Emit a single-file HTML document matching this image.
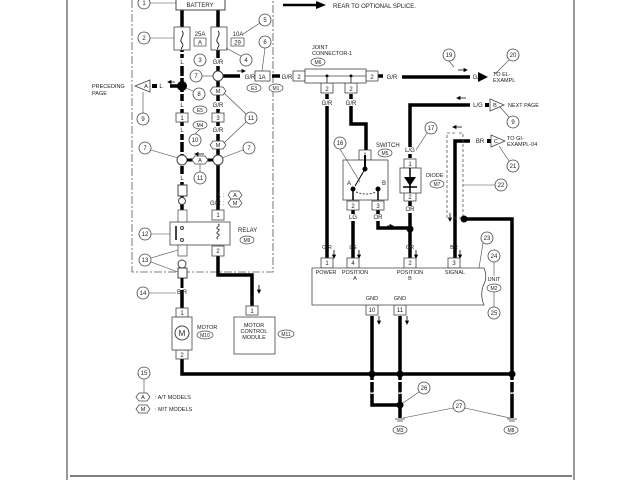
<!DOCTYPE html>
<html><head><meta charset="utf-8"><style>
html,body{margin:0;padding:0;background:#fff}
svg{display:block}
text{font-family:"Liberation Sans",sans-serif;fill:#222}
.c text{font-size:6px}
</style></head><body>
<svg width="640" height="480" viewBox="0 0 640 480" xmlns="http://www.w3.org/2000/svg">
<defs>
<g id="circ"><circle r="6" fill="#fff" stroke="#444" stroke-width="0.8"/></g>
</defs>
<g stroke="#555" stroke-width="1.2" fill="none">
<line x1="67" y1="0" x2="67" y2="480"/><line x1="574" y1="0" x2="574" y2="480"/>
<line x1="70" y1="476" x2="572" y2="476" stroke-width="1.5"/>
</g>
<path d="M132 0 V272 H273 V0" fill="none" stroke="#555" stroke-width="0.8" stroke-dasharray="8,2,2,2"/>
<line x1="283" y1="5" x2="318" y2="5" stroke="#000" stroke-width="2.5"/>
<polygon points="316,1 326,5 316,9" fill="#000"/>
<text x="333" y="8" font-size="6">REAR TO OPTIONAL SPLICE.</text>

<g stroke="#000" stroke-width="3.5" fill="none">
<path d="M182 10 V28 M182 50 V214 M182 226 V232"/>
<path d="M218 10 V28 M218 50 V215"/>
<path d="M218 76 H240"/>
<path d="M182 86 H170"/>
<path d="M272 76 H280"/>
<path d="M182 290 V310"/>
<path d="M218 255 V275 H252 V307"/>
<path d="M182 357 V374 H511"/>
<path d="M378 76 H383 M402 77 H470"/>
<path d="M327 94 V262 M351 94 V124 H366 V152"/>
<path d="M353 210 V262 M378 210 V228 H410"/>
<path d="M410 158 V105 H470"/>
<path d="M410 200 V262"/>
<path d="M470 141 H455 V262"/>
<path d="M464 219 H512 V418"/>
<path d="M372 316 V405 H400 M400 316 V418"/>
</g>
<g stroke="#fff" stroke-width="4" stroke-dasharray="2,10" fill="none">
<path d="M182 52 V80 M182 92 V180"/>
<path d="M372 380 V400 M400 380 V400 M512 380 V400"/>
</g>
<rect x="176" y="-2" width="49" height="12" fill="#fff" stroke="#444"/>
<text x="200" y="7" font-size="6" text-anchor="middle">BATTERY</text>
<g fill="#fff" stroke="#444" stroke-width="0.8">
<rect x="174" y="27" width="16" height="23"/><rect x="211" y="27" width="16" height="23"/>
</g>
<path d="M182 31 c4 4 -4 8 0 12 c3 3 -2 5 0 6 M218 31 c4 4 -4 8 0 12 c3 3 -2 5 0 6" stroke="#000" fill="none" stroke-width="0.8"/>
<text x="200" y="36" font-size="6" text-anchor="middle">25A</text>
<rect x="194" y="38" width="12" height="8" fill="#fff" stroke="#444" stroke-width="0.7"/><text x="200" y="44.5" font-size="6" text-anchor="middle">A</text>
<text x="238" y="36" font-size="6" text-anchor="middle">10A</text>
<rect x="231" y="38" width="13" height="8" fill="#fff" stroke="#444" stroke-width="0.7"/><text x="237.5" y="44.5" font-size="6" text-anchor="middle">29</text>
<g font-size="6" text-anchor="middle">
<text x="161" y="88">L</text>
<text x="250" y="79">G/R</text><text x="287" y="79">G/R</text>
<text x="392" y="79">G/R</text><text x="478" y="79">G/R</text>
<text x="478" y="107">L/G</text><text x="480" y="143">BR</text>
</g>
<g fill="#fff"><rect x="178" y="58" width="8" height="8"/><rect x="212" y="58" width="13" height="8"/><rect x="178" y="101" width="8" height="8"/><rect x="212" y="101" width="13" height="8"/><rect x="178" y="126" width="8" height="8"/><rect x="212" y="126" width="13" height="8"/><rect x="178" y="174" width="8" height="8"/></g>
<g font-size="6" text-anchor="middle">
<text x="182" y="64">L</text><text x="218" y="64">G/R</text><text x="182" y="107">L</text><text x="218" y="107">G/R</text><text x="182" y="132">L</text><text x="218" y="132">G/R</text><text x="182" y="180">L</text>
</g>
<circle cx="218" cy="76" r="5" fill="#fff" stroke="#444"/>
<circle cx="182" cy="86" r="5" fill="#000"/>
<circle cx="182" cy="160" r="5" fill="#fff" stroke="#444"/>
<circle cx="218" cy="160" r="5" fill="#fff" stroke="#444"/>
<line x1="187" y1="160" x2="213" y2="160" stroke="#000" stroke-width="3"/>
<g fill="#fff" stroke="#444" stroke-width="0.7">
<polygon points="210,91 213,87 223,87 226,91 223,95 213,95"/>
<polygon points="210,145 213,141 223,141 226,145 223,149 213,149"/>
<polygon points="192,160 195,156 205,156 208,160 205,164 195,164"/>
<polygon points="228,195 231,191 239,191 242,195 239,199 231,199"/>
<polygon points="228,203 231,199 239,199 242,203 239,207 231,207"/>
<polygon points="136,397 139,393 147,393 150,397 147,401 139,401"/>
<polygon points="136,409 139,405 147,405 150,409 147,413 139,413"/>
</g>
<g font-size="5.5" text-anchor="middle">
<text x="218" y="93">M</text><text x="218" y="147">M</text><text x="200" y="162">A</text>
<text x="235" y="197">A</text><text x="235" y="205">M</text>
<text x="143" y="399">A</text><text x="143" y="411">M</text>
</g>
<text x="224" y="197" font-size="6" text-anchor="end">L :</text>
<text x="224" y="205" font-size="6" text-anchor="end">G/R :</text>
<text x="155" y="399" font-size="5.5">: A/T MODELS</text>
<text x="155" y="411" font-size="5.5">: M/T MODELS</text>
<g fill="#000" stroke="#000" stroke-width="0.8">
<path d="M168 82 H175 M168 82 l3 -1.5 v3z"/>
<path d="M237 71 H245 M245 71 l-3 -1.5 v3z"/>
<path d="M195 154 H204 M195 154 l3 -1.5 v3z"/>
<path d="M259 285 V293 M259 293 l-1.5 -3 h3z"/>
<path d="M334 250 V258 M334 258 l-1.5 -3 h3z"/>
<path d="M359 250 V258 M359 258 l-1.5 -3 h3z"/>
<path d="M416 250 V258 M416 258 l-1.5 -3 h3z"/>
<path d="M460 250 V258 M460 258 l-1.5 -3 h3z"/>
<path d="M379 316 V324 M379 324 l-1.5 -3 h3z"/>
<path d="M407 316 V324 M407 324 l-1.5 -3 h3z"/>
<path d="M450 213 V221 M450 221 l-1.5 -3 h3z"/>
<path d="M453 127 H462 M453 127 l3 -1.5 v3z"/>
<path d="M457 98 H466 M457 98 l3 -1.5 v3z"/>
<path d="M458 70 H467 M467 70 l-3 -1.5 v3z"/>
<path d="M387 226 H393 M393 226 l-3 -1.5 v3z"/>
</g>
<polygon points="135,86 150,80 150,92" fill="#fff" stroke="#444" stroke-width="0.8"/>
<text x="146" y="88" font-size="5.5" text-anchor="middle">A</text>
<rect x="152" y="84" width="5" height="4" fill="#000"/>
<text x="92" y="88" font-size="5.5">PRECEDING</text><text x="92" y="95" font-size="5.5">PAGE</text>
<g fill="#fff" stroke="#444" stroke-width="0.8">
<rect x="176" y="113" width="12" height="9"/><rect x="212" y="113" width="12" height="9"/>
<rect x="255" y="71" width="15" height="10"/>
<rect x="293" y="71" width="12" height="10"/><rect x="366" y="71" width="12" height="10"/>
<rect x="321" y="83" width="12" height="10"/><rect x="345" y="83" width="12" height="10"/>
<rect x="212" y="210" width="12" height="10"/><rect x="212" y="246" width="12" height="10"/>
<rect x="176" y="308" width="12" height="9"/><rect x="176" y="350" width="12" height="9"/>
<rect x="246" y="306" width="12" height="9"/>
<rect x="359" y="150" width="12" height="10"/><rect x="347" y="201" width="12" height="9"/><rect x="372" y="201" width="12" height="9"/>
<rect x="404" y="159" width="12" height="9"/><rect x="404" y="192" width="12" height="9"/>
<rect x="321" y="258" width="12" height="10"/><rect x="347" y="258" width="12" height="10"/><rect x="404" y="258" width="12" height="10"/><rect x="448" y="258" width="12" height="10"/>
<rect x="366" y="305" width="12" height="10"/><rect x="394" y="305" width="12" height="10"/>
</g>
<g font-size="6" text-anchor="middle">
<text x="182" y="120">1</text><text x="218" y="120">3</text><text x="262" y="79">1A</text>
<text x="299" y="79">2</text><text x="372" y="79">2</text><text x="327" y="91">2</text><text x="351" y="91">2</text>
<text x="218" y="217">1</text><text x="218" y="253">2</text><text x="182" y="315">1</text><text x="182" y="357">2</text><text x="252" y="313">1</text>
<text x="365" y="157">1</text><text x="353" y="208">2</text><text x="378" y="208">3</text><text x="410" y="166">1</text><text x="410" y="199">2</text>
<text x="327" y="265">1</text><text x="353" y="265">4</text><text x="410" y="265">2</text><text x="454" y="265">3</text>
<text x="372" y="312">10</text><text x="400" y="312">11</text>
</g>
<g fill="#fff" stroke="#444" stroke-width="0.7">
<ellipse cx="200" cy="110" rx="7" ry="4"/><ellipse cx="200" cy="125" rx="7" ry="4"/>
<ellipse cx="254" cy="88" rx="7" ry="4"/><ellipse cx="276" cy="88" rx="7" ry="4"/>
<ellipse cx="247" cy="240" rx="7" ry="4"/><ellipse cx="205" cy="335" rx="8" ry="4"/><ellipse cx="286" cy="334" rx="8" ry="4"/>
<ellipse cx="318" cy="62" rx="7" ry="4"/><ellipse cx="385" cy="153" rx="7" ry="4"/><ellipse cx="437" cy="184" rx="7" ry="4"/>
<ellipse cx="494" cy="288" rx="7" ry="4"/><ellipse cx="400" cy="430" rx="7" ry="4"/><ellipse cx="511" cy="430" rx="7" ry="4"/>
</g>
<g font-size="5" text-anchor="middle">
<text x="200" y="112">E5</text><text x="200" y="127">M4</text><text x="254" y="90">E3</text><text x="276" y="90">M1</text>
<text x="247" y="242">M9</text><text x="205" y="337">M10</text><text x="286" y="336">M11</text>
<text x="318" y="64">M6</text><text x="385" y="155">M5</text><text x="437" y="186">M7</text>
<text x="494" y="290">M2</text><text x="400" y="432">M3</text><text x="511" y="432">M8</text>
</g>
<rect x="178" y="185" width="9" height="11" fill="#fff" stroke="#444"/>
<circle cx="182" cy="201" r="3.5" fill="#fff" stroke="#444"/>
<rect x="170" y="222" width="60" height="23" fill="#fff" stroke="#444" stroke-width="0.8"/>
<rect x="178" y="210" width="9" height="12" fill="#fff" stroke="#444" stroke-width="0.7"/>
<rect x="178" y="245" width="9" height="11" fill="#fff" stroke="#444" stroke-width="0.7"/>
<rect x="175" y="226" width="2" height="14" fill="#444"/>
<circle cx="182" cy="228" r="1.5" fill="none" stroke="#444"/><circle cx="182" cy="240" r="1.5" fill="none" stroke="#444"/>
<path d="M218 224 c4 2 -4 3 0 5 c4 2 -4 3 0 5 c4 2 -4 3 0 5" stroke="#444" fill="none"/>
<text x="238" y="232" font-size="6">RELAY</text>
<circle cx="182" cy="264" r="4" fill="#fff" stroke="#444"/>
<rect x="178" y="268" width="9" height="10" fill="#fff" stroke="#444"/>
<line x1="182" y1="278" x2="182" y2="288" stroke="#000" stroke-width="3"/>
<text x="182" y="294" font-size="6" text-anchor="middle">B/R</text>
<text x="252" y="301" font-size="6" text-anchor="middle">R</text>
<rect x="172" y="317" width="20" height="33" fill="#fff" stroke="#444" stroke-width="0.8"/>
<circle cx="182" cy="333" r="7" fill="#fff" stroke="#444"/>
<text x="182" y="336" font-size="8" text-anchor="middle">M</text>
<text x="197" y="329" font-size="5.5">MOTOR</text>
<rect x="234" y="317" width="41" height="37" fill="#fff" stroke="#444" stroke-width="0.8"/>
<g font-size="5.5" text-anchor="middle"><text x="254" y="327">MOTOR</text><text x="254" y="333">CONTROL</text><text x="254" y="339">MODULE</text></g>
<rect x="305" y="69" width="61" height="14" fill="#fff" stroke="#444" stroke-width="0.8"/>
<line x1="305" y1="76" x2="366" y2="76" stroke="#444" stroke-width="0.7"/>
<circle cx="327" cy="76" r="1.5" fill="#000"/><circle cx="351" cy="76" r="1.5" fill="#000"/>
<line x1="327" y1="76" x2="327" y2="83" stroke="#444"/><line x1="351" y1="76" x2="351" y2="83" stroke="#444"/>
<text x="312" y="49" font-size="5.5">JOINT</text><text x="312" y="55" font-size="5.5">CONNECTOR-1</text>
<rect x="321" y="99" width="13" height="7" fill="#fff"/><rect x="345" y="99" width="13" height="7" fill="#fff"/>
<text x="327" y="105" font-size="6" text-anchor="middle">G/R</text><text x="351" y="105" font-size="6" text-anchor="middle">G/R</text>
<polygon points="488,77 478,72 478,82" fill="#000"/>
<text x="493" y="76" font-size="5.5">TO EL-</text><text x="493" y="82" font-size="5.5">EXAMPL</text>
<rect x="485" y="103" width="4" height="4" fill="#000"/>
<polygon points="490,99 504,105 490,111" fill="#fff" stroke="#444" stroke-width="0.8"/>
<text x="495" y="107" font-size="5.5" text-anchor="middle">B</text>
<text x="508" y="107" font-size="5.5">NEXT PAGE</text>
<rect x="487" y="139" width="4" height="4" fill="#000"/>
<polygon points="491,135 505,141 491,147" fill="#fff" stroke="#444" stroke-width="0.8"/>
<text x="496" y="143" font-size="5.5" text-anchor="middle">C</text>
<text x="507" y="140" font-size="5.5">TO GI-</text><text x="507" y="146" font-size="5.5">EXAMPL-04</text>
<path d="M455 133 H447 V218 H463 V133 H457" fill="none" stroke="#555" stroke-width="0.8" stroke-dasharray="3,2"/>
<circle cx="464" cy="219" r="3.5" fill="#000"/>
<rect x="343" y="160" width="45" height="40" fill="#fff" stroke="#444" stroke-width="0.8"/>
<line x1="365" y1="155" x2="365" y2="168" stroke="#000" stroke-width="2"/>
<circle cx="365" cy="169" r="2.5" fill="#000"/><circle cx="353" cy="189" r="2.5" fill="#000"/><circle cx="378" cy="189" r="2.5" fill="#000"/>
<line x1="365" y1="169" x2="355" y2="186" stroke="#000" stroke-width="1"/>
<line x1="353" y1="189" x2="353" y2="200" stroke="#000" stroke-width="1.5"/><line x1="378" y1="189" x2="378" y2="200" stroke="#000" stroke-width="1.5"/>
<path d="M356 192 q10 4 20 0" stroke="#444" fill="none" stroke-dasharray="2,1.5"/>
<text x="347" y="185" font-size="6">A</text><text x="382" y="185" font-size="6">B</text>
<text x="376" y="147" font-size="6">SWITCH</text>
<rect x="349" y="214" width="9" height="7" fill="#fff"/><rect x="373" y="214" width="10" height="7" fill="#fff"/>
<text x="353" y="219" font-size="6" text-anchor="middle">LG</text><text x="378" y="219" font-size="6" text-anchor="middle">OR</text>
<rect x="400" y="168" width="21" height="25" fill="#fff" stroke="#444" stroke-width="0.8"/>
<line x1="410" y1="168" x2="410" y2="193" stroke="#000" stroke-width="1.5"/>
<polygon points="404,177 416,177 410,186" fill="#000"/><line x1="403" y1="187" x2="417" y2="187" stroke="#000" stroke-width="1.5"/>
<text x="426" y="177" font-size="5.5">DIODE</text>
<rect x="404" y="147" width="13" height="7" fill="#fff"/><text x="410" y="152" font-size="6" text-anchor="middle">L/G</text>
<rect x="405" y="206" width="10" height="7" fill="#fff"/><text x="410" y="211" font-size="6" text-anchor="middle">OR</text>
<circle cx="410" cy="229" r="3.5" fill="#000"/>
<path d="M312 268 H484 q4 10 -1 18 q-3 10 1 19 H312 Z" fill="#fff" stroke="#444" stroke-width="0.8"/>
<g font-size="5.5" text-anchor="middle">
<text x="327" y="249">G/R</text><text x="353" y="249">LG</text><text x="410" y="249">OR</text><text x="454" y="249">BR</text>
<text x="326" y="274">POWER</text><text x="355" y="274">POSITION</text><text x="355" y="280">A</text>
<text x="410" y="274">POSITION</text><text x="410" y="280">B</text><text x="455" y="274">SIGNAL</text>
<text x="372" y="300">GND</text><text x="400" y="300">GND</text>
<text x="494" y="281">UNIT</text>
<text x="372" y="395">B</text><text x="400" y="395">B</text><text x="512" y="395">B</text>
</g>
<g fill="#000"><circle cx="372" cy="374" r="3.5"/><circle cx="400" cy="374" r="3.5"/><circle cx="512" cy="374" r="3.5"/><circle cx="400" cy="405" r="3.5"/></g>
<g stroke="#444" stroke-width="0.8">
<line x1="395" y1="419" x2="405" y2="419"/><line x1="397" y1="421" x2="403" y2="421"/>
<line x1="507" y1="419" x2="517" y2="419"/><line x1="509" y1="421" x2="515" y2="421"/>
</g>
<g stroke="#444" stroke-width="0.6" fill="none">
<line x1="150" y1="38" x2="174" y2="38"/><line x1="150" y1="3" x2="176" y2="3"/>
<line x1="241" y1="56" x2="226" y2="48"/><line x1="260" y1="23" x2="243" y2="34"/>
<line x1="265" y1="48" x2="262" y2="71"/><line x1="202" y1="76" x2="213" y2="76"/>
<line x1="193" y1="91" x2="186" y2="88"/><line x1="143" y1="113" x2="143" y2="92"/>
<line x1="246" y1="114" x2="224" y2="93"/><line x1="246" y1="122" x2="224" y2="143"/>
<line x1="195" y1="134" x2="200" y2="129"/><line x1="151" y1="150" x2="178" y2="158"/>
<line x1="243" y1="150" x2="222" y2="158"/><line x1="200" y1="172" x2="200" y2="164"/>
<line x1="151" y1="234" x2="170" y2="234"/><line x1="151" y1="258" x2="178" y2="250"/><line x1="151" y1="262" x2="178" y2="272"/>
<line x1="149" y1="293" x2="176" y2="293"/><line x1="144" y1="379" x2="144" y2="393"/>
<line x1="340" y1="149" x2="360" y2="182"/><line x1="427" y1="133" x2="416" y2="150"/>
<line x1="449" y1="61" x2="454" y2="67"/><line x1="509" y1="60" x2="495" y2="74"/>
<line x1="509" y1="117" x2="500" y2="107"/><line x1="509" y1="161" x2="499" y2="146"/>
<line x1="495" y1="185" x2="463" y2="185"/><line x1="483" y1="243" x2="479" y2="268"/>
<line x1="494" y1="262" x2="494" y2="276"/><line x1="494" y1="292" x2="494" y2="307"/>
<line x1="419" y1="392" x2="403" y2="403"/><line x1="453" y1="408" x2="403" y2="418"/><line x1="465" y1="408" x2="510" y2="418"/>
</g>
<g class="c">
<g transform="translate(144,3)"><use href="#circ"/><text y="2" text-anchor="middle">1</text></g>
<g transform="translate(144,38)"><use href="#circ"/><text y="2" text-anchor="middle">2</text></g>
<g transform="translate(200,60)"><use href="#circ"/><text y="2" text-anchor="middle">3</text></g>
<g transform="translate(246,60)"><use href="#circ"/><text y="2" text-anchor="middle">4</text></g>
<g transform="translate(265,20)"><use href="#circ"/><text y="2" text-anchor="middle">5</text></g>
<g transform="translate(265,42)"><use href="#circ"/><text y="2" text-anchor="middle">6</text></g>
<g transform="translate(196,76)"><use href="#circ"/><text y="2" text-anchor="middle">7</text></g>
<g transform="translate(199,94)"><use href="#circ"/><text y="2" text-anchor="middle">8</text></g>
<g transform="translate(143,119)"><use href="#circ"/><text y="2" text-anchor="middle">9</text></g>
<g transform="translate(195,140)"><use href="#circ"/><text y="2" text-anchor="middle">10</text></g>
<g transform="translate(251,118)"><use href="#circ"/><text y="2" text-anchor="middle">11</text></g>
<g transform="translate(145,148)"><use href="#circ"/><text y="2" text-anchor="middle">7</text></g>
<g transform="translate(249,148)"><use href="#circ"/><text y="2" text-anchor="middle">7</text></g>
<g transform="translate(200,178)"><use href="#circ"/><text y="2" text-anchor="middle">11</text></g>
<g transform="translate(145,234)"><use href="#circ"/><text y="2" text-anchor="middle">12</text></g>
<g transform="translate(145,260)"><use href="#circ"/><text y="2" text-anchor="middle">13</text></g>
<g transform="translate(143,293)"><use href="#circ"/><text y="2" text-anchor="middle">14</text></g>
<g transform="translate(144,373)"><use href="#circ"/><text y="2" text-anchor="middle">15</text></g>
<g transform="translate(340,143)"><use href="#circ"/><text y="2" text-anchor="middle">16</text></g>
<g transform="translate(431,128)"><use href="#circ"/><text y="2" text-anchor="middle">17</text></g>
<g transform="translate(449,55)"><use href="#circ"/><text y="2" text-anchor="middle">19</text></g>
<g transform="translate(513,55)"><use href="#circ"/><text y="2" text-anchor="middle">20</text></g>
<g transform="translate(513,122)"><use href="#circ"/><text y="2" text-anchor="middle">9</text></g>
<g transform="translate(513,166)"><use href="#circ"/><text y="2" text-anchor="middle">21</text></g>
<g transform="translate(501,185)"><use href="#circ"/><text y="2" text-anchor="middle">22</text></g>
<g transform="translate(487,238)"><use href="#circ"/><text y="2" text-anchor="middle">23</text></g>
<g transform="translate(494,256)"><use href="#circ"/><text y="2" text-anchor="middle">24</text></g>
<g transform="translate(494,313)"><use href="#circ"/><text y="2" text-anchor="middle">25</text></g>
<g transform="translate(424,388)"><use href="#circ"/><text y="2" text-anchor="middle">26</text></g>
<g transform="translate(459,406)"><use href="#circ"/><text y="2" text-anchor="middle">27</text></g>
</g>
</svg>
</body></html>
